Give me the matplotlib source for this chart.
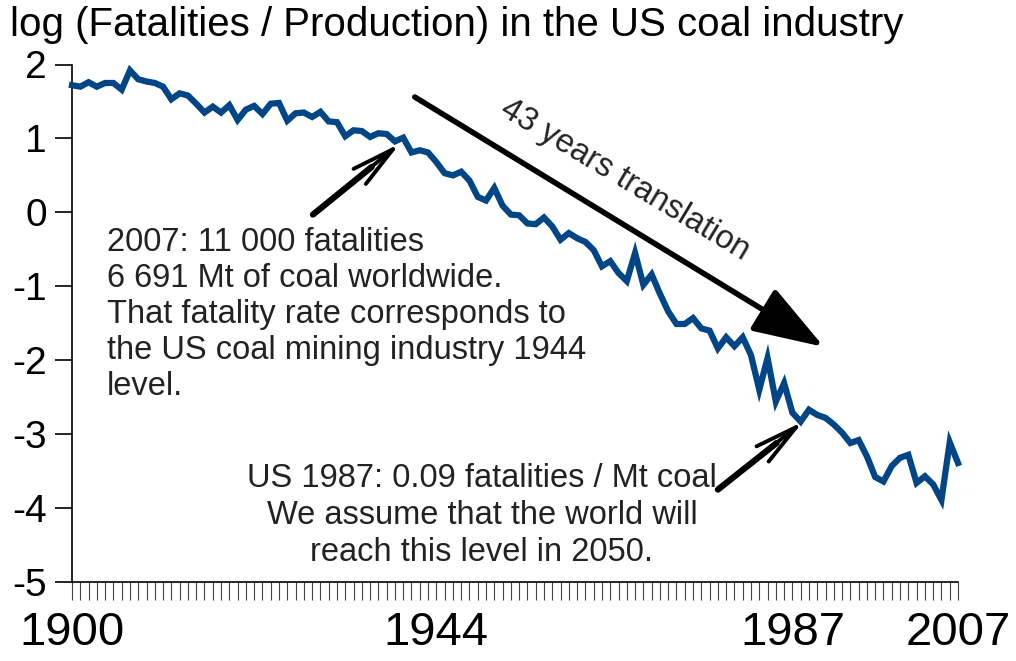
import matplotlib
matplotlib.use("Agg")
import matplotlib.pyplot as plt
import numpy as np

plt.rcParams['font.family'] = ['Liberation Sans', 'DejaVu Sans']

# log (fatalities / production), US coal industry
years = list(range(1900, 2008))
values = [1.72, 1.70, 1.76, 1.70, 1.75, 1.75, 1.66, 1.92, 1.80, 1.77,
          1.75, 1.70, 1.53, 1.61, 1.58, 1.47, 1.35, 1.43, 1.35, 1.45,
          1.25, 1.39, 1.44, 1.33, 1.47, 1.48, 1.24, 1.34, 1.35, 1.29,
          1.36, 1.23, 1.22, 1.03, 1.11, 1.10, 1.02, 1.07, 1.06, 0.96,
          1.01, 0.81, 0.84, 0.81, 0.68, 0.53, 0.50, 0.55, 0.43, 0.21,
          0.16, 0.33, 0.09, -0.03, -0.04, -0.15, -0.16, -0.07, -0.19, -0.37,
          -0.28, -0.35, -0.40, -0.51, -0.73, -0.66, -0.82, -0.93, -0.55, -0.98,
          -0.84, -1.10, -1.34, -1.51, -1.51, -1.43, -1.57, -1.60, -1.84, -1.69,
          -1.81, -1.69, -1.93, -2.40, -1.97, -2.56, -2.31, -2.71, -2.83, -2.67,
          -2.74, -2.78, -2.87, -2.98, -3.12, -3.08, -3.30, -3.58, -3.64, -3.43,
          -3.32, -3.28, -3.66, -3.57, -3.68, -3.89, -3.11, -3.39]

labelled_years = [1900, 1944, 1987, 2007]
y_ticks = [-5, -4, -3, -2, -1, 0, 1, 2]

title = "log (Fatalities / Production) in the US coal industry"
note_2007 = ("2007: 11 000 fatalities\n6 691 Mt of coal worldwide.\n"
             "That fatality rate corresponds to\nthe US coal mining industry 1944\nlevel.")
note_1987 = ("US 1987: 0.09 fatalities / Mt coal\nWe assume that the world will\n"
             "reach this level in 2050.")

fig = plt.figure(figsize=(10.16, 6.61), dpi=100)
ax = fig.add_axes([72/1016, 79/661, 886/1016, 517.5/661])

ax.plot(years, values, color="#004586", lw=4.5, solid_joinstyle="miter", clip_on=False, zorder=3)

ax.set_xlim(1900, 2007)
ax.set_ylim(-5, 2)
ax.spines["top"].set_visible(False)
ax.spines["right"].set_visible(False)
for s in ["left", "bottom"]:
    ax.spines[s].set_linewidth(1.2)
    ax.spines[s].set_color("black")

ax.set_xticks(years, [str(y) if y in labelled_years else "" for y in years])
ax.tick_params(axis="x", direction="out", length=13, width=0.8, color="#444444",
               labelsize=34, pad=8)
ax.set_yticks(y_ticks, [str(v) for v in y_ticks])
ax.tick_params(axis="y", direction="out", length=12, width=1.2, color="black",
               labelsize=28, pad=6)

fig.text(10/1016, 1 - 6/661, title, fontsize=29, ha="left", va="top")

txt_col = "#222222"
ax.text(1904.2, -0.20, note_2007, fontsize=23.5, ha="left", va="top",
        linespacing=1.21, color=txt_col)
ax.text(1949.5, -3.39, note_1987, fontsize=23.5, ha="center", va="top",
        multialignment="center", linespacing=1.25, color=txt_col)
ax.text(1966.8, 0.44, "43 years translation", fontsize=23.5, rotation=-31,
        rotation_mode="anchor", ha="center", va="center", color=txt_col)

# big translation arrow
ax.annotate("", xy=(1990.8, -1.82), xytext=(1941.4, 1.56),
            arrowprops=dict(arrowstyle="-|>,head_length=44,head_width=15",
                            mutation_scale=1, lw=4, color="black",
                            shrinkA=0, shrinkB=0))

# pointer arrows
for tail, mid, tip in [((1929.1, -0.03), (1936.2, 0.615), (1939.6, 0.93)),
                       ((1978.0, -3.75), (1985.1, -3.12), (1988.3, -2.83))]:
    ax.annotate("", xy=mid, xytext=tail,
                arrowprops=dict(arrowstyle="-", lw=4.5, color="black",
                                shrinkA=0, shrinkB=0))
    ax.annotate("", xy=tip, xytext=tail,
                arrowprops=dict(arrowstyle="->,head_length=31,head_width=7",
                                mutation_scale=1, lw=2.8, color="black",
                                shrinkA=0, shrinkB=0))

fig.savefig("out.png", dpi=100)
